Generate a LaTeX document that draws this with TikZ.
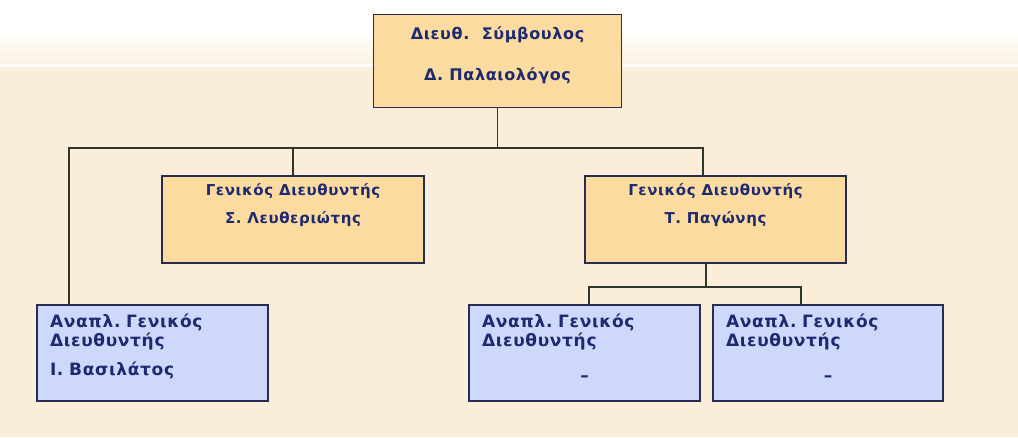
\documentclass[tikz,border=0pt]{standalone}
\usepackage{fontspec}
\setmainfont{DejaVu Sans}
\usetikzlibrary{positioning}
\definecolor{bgcream}{RGB}{250,238,219}
\definecolor{boxorange}{RGB}{252,219,160}
\definecolor{boxblue}{RGB}{205,216,250}
\definecolor{edgenavy}{RGB}{40,44,78}
\definecolor{textnavy}{RGB}{30,42,112}
\definecolor{wireline}{RGB}{45,55,45}
\tikzset{
  orgbox/.style={draw=edgenavy, line width=1.3pt, rectangle, inner sep=0pt,
    text=textnavy},
  headbox/.style={orgbox, fill=boxorange, align=center},
  deputybox/.style={orgbox, fill=boxblue, align=left},
  wire/.style={draw=wireline, line width=1.2pt}
}
\newcommand{\spaced}{\addfontfeature{LetterSpace=4}}
\newcommand{\vacant}{\hfill\raisebox{-6pt}{–}\hfill\mbox{}}
\begin{document}
\begin{tikzpicture}[x=1pt,y=1pt]
  % page background: cream with a pale band at the top
  \useasboundingbox (0,0) rectangle (1018,437);
  \fill[bgcream] (0,0) rectangle (1018,437);
  \fill[white] (0,405) rectangle (1018,437);
  \shade[top color=white, bottom color=bgcream] (0,366) rectangle (1018,406);
  \fill[white, opacity=0.8] (0,370) rectangle (1018,372.5);

  % managing director
  \node[headbox, minimum width=248pt, minimum height=93pt,
        font=\bfseries\fontsize{16}{18}\selectfont\spaced]
    (ceo) at (497.5,376)
    {Διευθ.\ \ Σύμβουλος\\[23pt]Δ. Παλαιολόγος\\[-4pt]\mbox{}};

  % general directors
  \node[headbox, minimum width=262pt, minimum height=87pt,
        font=\bfseries\fontsize{15}{17}\selectfont\spaced]
    (gdl) at (293,217.5)
    {Γενικός\ Διευθυντής\\[11pt]Σ. Λευθεριώτης\\[14pt]\mbox{}};
  \node[headbox, minimum width=261pt, minimum height=87pt,
        font=\bfseries\fontsize{15}{17}\selectfont\spaced]
    (gdr) at (715.5,217.5)
    {Γενικός\ Διευθυντής\\[11pt]Τ. Παγώνης\\[14pt]\mbox{}};

  % deputy general directors
  \node[deputybox, minimum width=231pt, minimum height=96pt,
        text width=205pt, font=\bfseries\fontsize{17}{19}\selectfont\spaced]
    (dgl) at (152.5,84)
    {Αναπλ.\ Γενικός\\Διευθυντής\\[10pt]Ι. Βασιλάτος\\[-3pt]\mbox{}};
  \node[deputybox, minimum width=231pt, minimum height=96pt,
        text width=205pt, font=\bfseries\fontsize{17}{19}\selectfont\spaced]
    (dgm) at (584.5,84)
    {Αναπλ.\ Γενικός\\Διευθυντής\\[10pt]\vacant\\[-3pt]\mbox{}};
  \node[deputybox, minimum width=230pt, minimum height=96pt,
        text width=204pt, font=\bfseries\fontsize{17}{19}\selectfont\spaced]
    (dgr) at (828,84)
    {Αναπλ.\ Γενικός\\Διευθυντής\\[10pt]\vacant\\[-3pt]\mbox{}};

  % connector junctions
  \coordinate (busl) at (69,289);
  \coordinate (busr) at (703,289);
  \coordinate (subc) at (706,150);
  \coordinate (subl) at (589,150);
  \coordinate (subr) at (801,150);

  % upper tree
  \draw[wire] (ceo.south) -- (ceo.south |- busl);
  \draw[wire] (busl |- dgl.north) -- (busl) -- (busr) -- (busr |- gdr.north);
  \draw[wire] (gdl.north) -- (gdl.north |- busl);

  % lower tree
  \draw[wire] (subc |- gdr.south) -- (subc);
  \draw[wire] (subl |- dgm.north) -- (subl) -- (subr) -- (subr |- dgr.north);
\end{tikzpicture}
\end{document}
